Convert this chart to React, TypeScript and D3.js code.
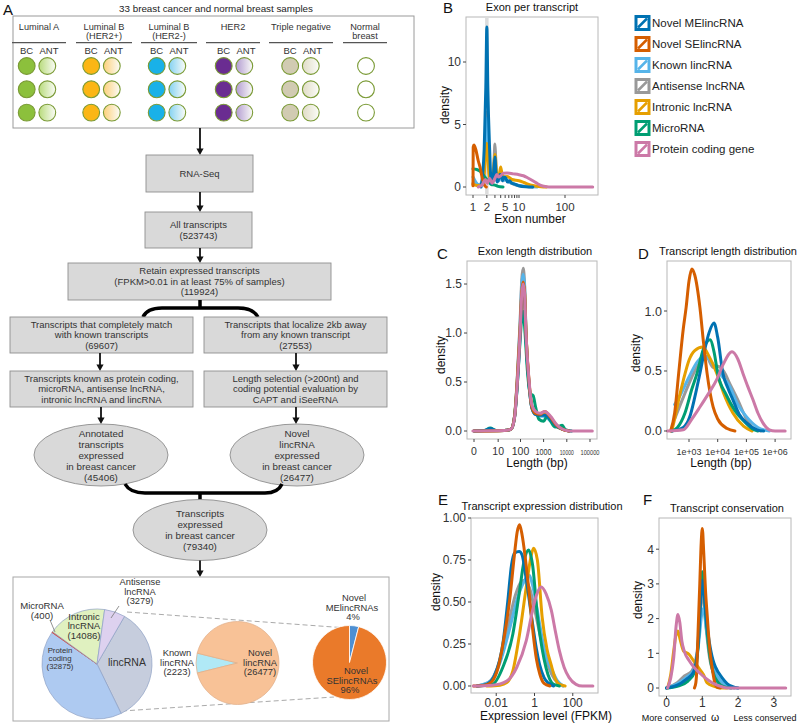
import React from "react";
import * as d3 from "d3";

type Pt = [number, number];
const FONT = "'Liberation Sans', Arial, Helvetica, sans-serif";

// ---------------- Panel A: samples ----------------
const sampleTitle = "33 breast cancer and normal breast samples";
const subtypeLabels: string[][] = [["Luminal A"], ["Luminal B", "(HER2+)"], ["Luminal B", "(HER2-)"], ["HER2"], ["Triple negative"], ["Normal", "breast"]];
const subtypePaired = [true, true, true, true, true, false];
const tumourColors = ["#8cc03c", "#fbb615", "#19b1e8", "#6a2c91", "#d1cbb2", "#ffffff"];
const adjacentColors = ["#b8db7c", "#fcd07a", "#84d2f2", "#b29bd1", "#e0dcc6", "#ffffff"];
const samplesPerGroup = 3;

// ---------------- Panel A: flowchart ----------------
const stepRnaSeq = ["RNA-Seq"];
const stepAll = ["All transcripts", "(523743)"];
const stepRetain = ["Retain expressed transcripts", "(FPKM>0.01 in at least 75% of samples)", "(119924)"];
const stepMatch = ["Transcripts that completely match", "with known transcripts", "(69607)"];
const stepAway = ["Transcripts that localize 2kb away", "from any known transcript", "(27553)"];
const stepKnown = ["Transcripts known as protein coding,", "microRNA, antisense lncRNA,", "intronic lncRNA and lincRNA"];
const stepLength = ["Length selection (>200nt) and", "coding potential evaluation by", "CAPT and iSeeRNA"];
const stepAnnotated = ["Annotated", "transcripts", "expressed", "in breast cancer", "(45406)"];
const stepNovel = ["Novel", "lincRNA", "expressed", "in breast cancer", "(26477)"];
const stepTotal = ["Transcripts", "expressed", "in breast cancer", "(79340)"];

// ---------------- Panel A: pies ----------------
const annotatedClasses = ["lincRNA", "Protein coding", "MicroRNA", "Intronic lncRNA", "Antisense lncRNA"];
const annotatedSliceDeg = [124, 151, 1, 62, 22];
const annotatedFills: [string, string][] = [["#eceff5", "#c6cddd"], ["#e4eefc", "#aecaf1"], ["#e0574c", "#e0574c"], ["#f7fbea", "#e0f1c0"], ["#f3eefa", "#ddd1ef"]];
const lincClasses = ["Known lincRNA", "Novel lincRNA"];
const lincSlicePct = [7.7, 92.3];
const lincFills: [string, string][] = [["#d2f4fb", "#b0e9f6"], ["#fde4cf", "#f8c297"]];
const novelClasses = ["Novel MElincRNAs", "Novel SElincRNAs"];
const novelSlicePct = [4, 96];
const novelFills = ["#4d8fd2", "#ea7a2a"];

// ---------------- Density panels ----------------
const seriesNames = ["Novel MElincRNA", "Novel SElincRNA", "Known lincRNA", "Antisense lncRNA", "Intronic lncRNA", "MicroRNA", "Protein coding gene"];
const seriesColors = ["#0072B2", "#D55E00", "#56B4E9", "#999999", "#E69F00", "#009E73", "#CC79A7"];
const seriesOrder = [3, 2, 4, 5, 0, 1, 6];

// B: exon number (x), density (y)
const exonPerTranscript: Pt[][] = [
  [[1.5, 0], [1.75, 3], [1.9, 8], [2, 12.8], [2.1, 8], [2.3, 3], [2.5, 0.3], [2.7, 0.4], [2.85, 1.5], [3, 2.4], [3.15, 1.2], [3.35, 0.4], [3.6, 0.6], [3.85, 1.0], [4.1, 1.0], [4.4, 0.5], [4.8, 0.8], [5.2, 0.7], [5.6, 0.4], [6.2, 0.5], [7, 0.3], [8.5, 0.2], [10, 0.1], [14, 0.02], [20, 0]],
  [[1, 0.1], [1.01, 3.2], [1.05, 3.36], [1.15, 3.0], [1.3, 2.1], [1.42, 1.6], [1.55, 0.9], [1.68, 0.4], [1.8, 0.1], [1.95, 0]],
  [[1, 0.8], [1.15, 0.4], [1.35, 0.15], [1.6, 0.5], [1.85, 3], [2, 5.5], [2.15, 3], [2.4, 0.4], [2.7, 0.6], [3, 1.8], [3.3, 0.6], [3.7, 0.5], [4, 0.9], [4.5, 0.5], [5, 0.6], [6, 0.4], [8, 0.25], [10, 0.12], [15, 0.04], [25, 0]],
  [[1, 0.3], [1.3, 0.2], [1.6, 0.3], [1.85, 3], [2, 6], [2.15, 3], [2.4, 0.3], [2.75, 0.5], [2.9, 2.5], [3, 3.45], [3.1, 2.5], [3.3, 0.5], [3.7, 0.6], [4, 1.0], [4.4, 0.5], [5, 0.6], [6, 0.4], [8, 0.2], [12, 0.05], [20, 0]],
  [[1, 0.2], [1.4, 0.1], [1.7, 0.6], [2, 3.5], [2.3, 0.6], [2.7, 0.8], [3, 2.6], [3.3, 1.0], [3.7, 1.0], [4, 1.6], [4.3, 1.0], [4.8, 0.8], [5.5, 0.85], [7, 0.6], [10, 0.5], [14, 0.3], [20, 0.12], [30, 0.02], [40, 0]],
  [[1, 1.45], [1.2, 1.4], [1.5, 1.2], [1.8, 0.8], [2.1, 0.5], [2.5, 0.2], [3, 0.15], [3.5, 0.05], [4.5, 0]],
  [[1.3, 0], [1.6, 0.2], [1.85, 0.6], [2.05, 0.3], [2.3, 0.7], [2.6, 0.3], [3, 0.7], [3.3, 1.0], [3.6, 0.8], [4, 0.9], [4.6, 1.1], [5.5, 1.12], [7.5, 1.05], [10, 0.98], [12.5, 0.9], [16, 0.7], [20, 0.5], [25, 0.28], [31, 0.1], [40, 0.02], [50, 0], [400, 0]],
];
const exonTicks = [1, 2, 3, 4, 5, 6, 7, 8, 9, 10, 100];
const exonTickLabels = ["1", "2", "", "", "5", "", "", "", "", "10", "100"];

// C: log10(exon length + 1) (x), density (y)
const exonLength: Pt[][] = [
  [[0, 0], [0.45, 0.005], [0.7, 0.025], [0.95, 0.005], [1.3, 0.005], [1.6, 0.02], [1.75, 0.14], [1.86, 0.45], [1.98, 0.95], [2.06, 1.35], [2.12, 1.45], [2.18, 1.35], [2.24, 0.95], [2.38, 0.45], [2.49, 0.24], [2.65, 0.17], [2.85, 0.16], [3.05, 0.16], [3.3, 0.12], [3.55, 0.05], [3.8, 0.02], [4.1, 0]],
  [[0, 0], [1.3, 0.005], [1.6, 0.02], [1.75, 0.15], [1.86, 0.5], [1.98, 1.0], [2.06, 1.42], [2.12, 1.52], [2.18, 1.42], [2.24, 1.0], [2.38, 0.48], [2.49, 0.25], [2.65, 0.18], [2.85, 0.17], [3.05, 0.2], [3.3, 0.14], [3.55, 0.06], [3.8, 0.02], [4.1, 0]],
  [[0, 0], [1.3, 0.005], [1.6, 0.02], [1.75, 0.15], [1.86, 0.5], [1.98, 1.05], [2.06, 1.5], [2.12, 1.6], [2.18, 1.48], [2.24, 1.02], [2.38, 0.46], [2.49, 0.24], [2.65, 0.17], [2.85, 0.15], [3.05, 0.15], [3.3, 0.1], [3.55, 0.05], [3.8, 0.02], [4.2, 0]],
  [[0, 0], [1.3, 0.005], [1.6, 0.02], [1.75, 0.16], [1.86, 0.52], [1.98, 1.08], [2.06, 1.55], [2.12, 1.66], [2.18, 1.5], [2.24, 1.02], [2.38, 0.46], [2.49, 0.24], [2.65, 0.17], [2.85, 0.16], [3.05, 0.17], [3.3, 0.11], [3.55, 0.05], [3.8, 0.02], [4.1, 0]],
  [[0, 0], [1.3, 0.005], [1.6, 0.02], [1.75, 0.15], [1.86, 0.48], [1.98, 0.98], [2.06, 1.4], [2.12, 1.5], [2.18, 1.4], [2.24, 1.0], [2.38, 0.48], [2.49, 0.25], [2.65, 0.19], [2.85, 0.17], [3.05, 0.18], [3.3, 0.13], [3.55, 0.05], [3.8, 0.02], [4.1, 0]],
  [[0, 0], [0.45, 0.005], [0.7, 0.03], [0.95, 0.005], [1.3, 0.005], [1.6, 0.02], [1.75, 0.15], [1.86, 0.45], [1.98, 0.9], [2.07, 1.18], [2.12, 1.22], [2.2, 1.0], [2.3, 0.62], [2.42, 0.38], [2.55, 0.36], [2.65, 0.25], [2.8, 0.12], [3.0, 0.1], [3.15, 0.15], [3.3, 0.1], [3.5, 0.04], [3.7, 0.05], [3.8, 0.06], [3.95, 0.01], [4.2, 0]],
  [[-0.05, 0], [1.3, 0.005], [1.6, 0.02], [1.75, 0.14], [1.86, 0.47], [1.98, 0.97], [2.06, 1.4], [2.12, 1.5], [2.18, 1.4], [2.24, 1.0], [2.38, 0.5], [2.49, 0.27], [2.65, 0.2], [2.85, 0.18], [3.05, 0.2], [3.3, 0.15], [3.55, 0.07], [3.8, 0.02], [4.1, 0], [5.1, 0]],
];
const exonLengthTicks = [0, 10, 100, 1000, 10000, 100000];
const exonLengthTickLabels = ["0", "10", "100", "1000", "10000", "100000"];

// D: log10(transcript length) (x), density (y)
const transcriptLength: Pt[][] = [
  [[2.4, 0], [2.8, 0.03], [3.03, 0.12], [3.2, 0.28], [3.38, 0.48], [3.55, 0.68], [3.7, 0.82], [3.87, 0.9], [4.0, 0.78], [4.18, 0.48], [4.35, 0.36], [4.53, 0.26], [4.75, 0.14], [5.0, 0.07], [5.37, 0.01], [5.6, 0]],
  [[2.36, 0], [2.5, 0.15], [2.64, 0.48], [2.8, 0.85], [2.9, 1.03], [3.0, 1.25], [3.1, 1.35], [3.2, 1.3], [3.38, 1.03], [3.5, 0.75], [3.63, 0.48], [3.84, 0.2], [4.0, 0.1], [4.33, 0.02], [4.6, 0]],
  [[2.5, 0.22], [2.7, 0.3], [3.0, 0.45], [3.3, 0.58], [3.55, 0.62], [3.7, 0.6], [3.84, 0.55], [4.1, 0.47], [4.4, 0.38], [4.7, 0.22], [5.0, 0.12], [5.4, 0.03], [5.8, 0]],
  [[2.5, 0.1], [2.8, 0.28], [3.1, 0.45], [3.4, 0.58], [3.6, 0.62], [3.84, 0.53], [4.0, 0.54], [4.2, 0.5], [4.45, 0.38], [4.7, 0.26], [5.0, 0.1], [5.25, 0.02], [5.5, 0]],
  [[2.4, 0], [2.5, 0.1], [2.64, 0.26], [2.8, 0.42], [3.0, 0.59], [3.2, 0.67], [3.48, 0.7], [3.7, 0.62], [3.97, 0.48], [4.2, 0.32], [4.53, 0.15], [4.9, 0.04], [5.2, 0]],
  [[2.4, 0], [2.6, 0.03], [2.86, 0.15], [3.1, 0.35], [3.28, 0.48], [3.5, 0.68], [3.73, 0.76], [3.88, 0.65], [4.0, 0.48], [4.3, 0.3], [4.6, 0.17], [4.88, 0.09], [5.2, 0.02], [5.4, 0]],
  [[2.25, 0], [2.8, 0.01], [3.1, 0.1], [3.38, 0.2], [3.7, 0.32], [3.97, 0.43], [4.2, 0.56], [4.5, 0.66], [4.7, 0.6], [4.88, 0.48], [5.05, 0.37], [5.23, 0.26], [5.4, 0.15], [5.57, 0.07], [5.8, 0.01], [6.0, 0], [6.35, 0]],
];
const transcriptLengthTicks = [3, 4, 5, 6];
const transcriptLengthTickLabels = ["1e+03", "1e+04", "1e+05", "1e+06"];

// E: log10(FPKM) (x), density (y)
const expression: Pt[][] = [
  [[-3.0, 0], [-2.5, 0.01], [-2.1, 0.06], [-1.63, 0.27], [-1.4, 0.5], [-1.2, 0.72], [-1.05, 0.79], [-0.8, 0.8], [-0.65, 0.78], [-0.45, 0.65], [-0.15, 0.41], [0.1, 0.22], [0.26, 0.13], [0.5, 0.05], [0.7, 0.02], [1.0, 0]],
  [[-3.2, 0], [-2.6, 0.005], [-2.24, 0.025], [-1.9, 0.11], [-1.56, 0.31], [-1.3, 0.51], [-1.05, 0.78], [-0.9, 0.92], [-0.78, 0.96], [-0.65, 0.9], [-0.5, 0.78], [-0.33, 0.61], [-0.07, 0.31], [0.1, 0.16], [0.28, 0.07], [0.5, 0.015], [0.8, 0]],
  [[-3.0, 0], [-2.3, 0.03], [-1.8, 0.14], [-1.3, 0.34], [-0.9, 0.52], [-0.55, 0.62], [-0.3, 0.66], [-0.1, 0.6], [0.1, 0.48], [0.36, 0.31], [0.6, 0.18], [0.93, 0.09], [1.2, 0.03], [1.5, 0]],
  [[-3.0, 0], [-2.4, 0.02], [-1.9, 0.12], [-1.4, 0.35], [-1.0, 0.54], [-0.7, 0.62], [-0.5, 0.63], [-0.25, 0.58], [0.0, 0.46], [0.3, 0.3], [0.6, 0.16], [0.9, 0.07], [1.2, 0.02], [1.5, 0]],
  [[-2.5, 0], [-1.8, 0.005], [-1.45, 0.02], [-1.13, 0.09], [-0.78, 0.31], [-0.43, 0.59], [-0.2, 0.76], [-0.05, 0.82], [0.15, 0.75], [0.4, 0.41], [0.65, 0.22], [0.86, 0.13], [1.1, 0.04], [1.3, 0.01], [1.6, 0]],
  [[-3.0, 0], [-2.2, 0.01], [-1.66, 0.11], [-1.13, 0.31], [-0.8, 0.55], [-0.55, 0.74], [-0.31, 0.81], [-0.1, 0.72], [0.16, 0.41], [0.4, 0.22], [0.6, 0.11], [0.8, 0.04], [1.0, 0.01], [1.3, 0]],
  [[-3.2, 0], [-2.2, 0.005], [-1.45, 0.03], [-0.93, 0.11], [-0.43, 0.27], [-0.1, 0.45], [0.1, 0.54], [0.36, 0.59], [0.6, 0.55], [0.88, 0.45], [1.1, 0.32], [1.3, 0.21], [1.55, 0.11], [1.81, 0.05], [2.17, 0.01], [2.5, 0], [3.05, 0]],
];
const expressionTicks = [-2, 0, 2];
const expressionTickLabels = ["0.01", "1", "100"];

// F: omega (x), density (y)
const conservation: Pt[][] = [
  [[0.0, 0], [0.3, 0.08], [0.55, 0.25], [0.75, 0.45], [0.88, 1.2], [0.96, 2.6], [1.0, 3.1], [1.05, 2.7], [1.12, 1.9], [1.2, 1.3], [1.3, 0.8], [1.37, 0.6], [1.55, 0.3], [1.7, 0.12], [1.85, 0.04], [2.0, 0]],
  [[0.78, 0], [0.82, 0.15], [0.85, 0.6], [0.88, 1.58], [0.93, 3.0], [0.97, 4.2], [1.0, 4.6], [1.04, 3.9], [1.09, 2.8], [1.14, 2.05], [1.2, 1.2], [1.28, 0.55], [1.35, 0.15], [1.42, 0.02], [1.5, 0]],
  [[0.0, 0], [0.3, 0.12], [0.55, 0.3], [0.75, 0.5], [0.9, 1.3], [0.98, 2.1], [1.04, 2.3], [1.1, 1.8], [1.2, 1.1], [1.3, 0.6], [1.45, 0.3], [1.6, 0.12], [1.8, 0.03], [2.0, 0]],
  [[0.0, 0], [0.3, 0.15], [0.5, 0.35], [0.7, 0.48], [0.85, 1.0], [0.95, 2.3], [1.0, 2.8], [1.05, 2.4], [1.12, 1.6], [1.2, 0.9], [1.35, 0.35], [1.5, 0.12], [1.7, 0.02], [1.9, 0]],
  [[0.03, 0], [0.12, 0.4], [0.2, 1.06], [0.26, 1.5], [0.32, 1.64], [0.38, 1.4], [0.48, 1.06], [0.62, 0.98], [0.76, 0.78], [0.9, 0.58], [0.99, 0.45], [1.05, 0.35], [1.13, 0.15], [1.33, 0.05], [1.5, 0.01], [1.7, 0]],
  [[0.0, 0], [0.3, 0.05], [0.6, 0.2], [0.8, 0.5], [0.9, 1.5], [0.96, 2.9], [1.0, 3.35], [1.05, 2.8], [1.12, 1.8], [1.2, 1.0], [1.3, 0.45], [1.45, 0.15], [1.6, 0.04], [1.8, 0]],
  [[0.03, 0], [0.12, 0.3], [0.2, 0.86], [0.27, 1.8], [0.32, 2.12], [0.37, 1.9], [0.43, 1.35], [0.5, 1.05], [0.64, 0.78], [0.78, 0.58], [0.92, 0.44], [1.05, 0.32], [1.2, 0.2], [1.35, 0.11], [1.48, 0.06], [1.65, 0.01], [1.8, 0], [3.33, 0]],
];
const conservationTicks = [0, 1, 2, 3];

// ---------------- helpers ----------------
const toRad = (d: number) => (d * Math.PI) / 180;

function Arrow({ x, y1, y2 }: { x: number; y1: number; y2: number }) {
  return (
    <g>
      <line x1={x} y1={y1} x2={x} y2={y2 - 5} stroke="#111" strokeWidth={1.8} />
      <path d={`M${x - 3.6},${y2 - 6.5}L${x + 3.6},${y2 - 6.5}L${x},${y2}Z`} fill="#111" />
    </g>
  );
}

function Box({ x, y, w, h, lines }: { x: number; y: number; w: number; h: number; lines: string[] }) {
  const lh = 10.5;
  const start = y + h / 2 - ((lines.length - 1) * lh) / 2;
  return (
    <g>
      <rect x={x} y={y} width={w} height={h} fill="#d9d9d9" stroke="#8f8f8f" strokeWidth={0.9} />
      {lines.map((l, i) => (
        <text key={i} x={x + w / 2} y={start + i * lh + 3.4} textAnchor="middle" fontSize={9.5} fill="#333">{l}</text>
      ))}
    </g>
  );
}

function Oval({ cx, cy, rx, ry, lines }: { cx: number; cy: number; rx: number; ry: number; lines: string[] }) {
  const lh = 11;
  const start = cy - ((lines.length - 1) * lh) / 2;
  return (
    <g>
      <ellipse cx={cx} cy={cy} rx={rx} ry={ry} fill="#d9d9d9" stroke="#8f8f8f" strokeWidth={0.9} />
      {lines.map((l, i) => (
        <text key={i} x={cx} y={start + i * lh + 3.5} textAnchor="middle" fontSize={9.8} fill="#333">{l}</text>
      ))}
    </g>
  );
}

function Label({ x, y, lines, size = 9.3, lh = 9.7, anchorX }: { x: number; y: number; lines: string[]; size?: number; lh?: number; anchorX?: number[] }) {
  return (
    <g>
      {lines.map((l, i) => (
        <text key={i} x={anchorX ? anchorX[i] : x} y={y + i * lh} textAnchor="middle" fontSize={size} fill="#333">{l}</text>
      ))}
    </g>
  );
}

type Tick = { v: number; label: string; w?: number; fs?: number };

function DensityPanel(p: {
  letter: string; letterPos: [number, number];
  title: string; titlePos: [number, number];
  box: [number, number, number, number];
  xs: (v: number) => number; ys: (v: number) => number;
  xTicks: Tick[]; yTicks: Tick[];
  xTickBase: number; xTickSize: number; yTickSize: number;
  xTitle?: string; xTitlePos?: [number, number];
  yTitlePos: [number, number];
  data: Pt[][];
  under?: React.ReactNode;
}) {
  const [x0, y0, x1, y1] = p.box;
  const line = d3.line<Pt>().x((d) => p.xs(d[0])).y((d) => p.ys(d[1])).curve(d3.curveMonotoneX);
  return (
    <g>
      <text x={p.letterPos[0]} y={p.letterPos[1]} fontSize={15} fill="#111">{p.letter}</text>
      <text x={p.titlePos[0]} y={p.titlePos[1]} fontSize={11} textAnchor="middle" fill="#111">{p.title}</text>
      <rect x={x0} y={y0} width={x1 - x0} height={y1 - y0} fill="#fff" stroke="#b8b8b8" strokeWidth={1} />
      {p.under}
      {seriesOrder.map((i) => (
        <path key={i} d={line(p.data[i]) || ""} fill="none" stroke={seriesColors[i]} strokeWidth={3} strokeLinejoin="round" strokeLinecap="round" />
      ))}
      {p.yTicks.map((t) => (
        <g key={"y" + t.label}>
          <line x1={x0 - 3} x2={x0} y1={p.ys(t.v)} y2={p.ys(t.v)} stroke="#444" strokeWidth={1} />
          <text x={x0 - 5} y={p.ys(t.v) + p.yTickSize * 0.36} textAnchor="end" fontSize={p.yTickSize} fill="#333">{t.label}</text>
        </g>
      ))}
      {p.xTicks.map((t, i) => (
        <g key={"x" + i}>
          <line x1={p.xs(t.v)} x2={p.xs(t.v)} y1={y1} y2={y1 + 3} stroke="#444" strokeWidth={1} />
          {t.label !== "" && (
            t.w ? (
              <text x={p.xs(t.v)} y={p.xTickBase} textAnchor="middle" fontSize={t.fs || p.xTickSize} fill="#333" textLength={t.w} lengthAdjust="spacingAndGlyphs">{t.label}</text>
            ) : (
              <text x={p.xs(t.v)} y={p.xTickBase} textAnchor="middle" fontSize={t.fs || p.xTickSize} fill="#333">{t.label}</text>
            )
          )}
        </g>
      ))}
      {p.xTitle && p.xTitlePos && (
        <text x={p.xTitlePos[0]} y={p.xTitlePos[1]} textAnchor="middle" fontSize={12} fill="#111">{p.xTitle}</text>
      )}
      <text transform={`translate(${p.yTitlePos[0] + 4},${p.yTitlePos[1]}) rotate(-90)`} textAnchor="middle" fontSize={12} fill="#111">density</text>
    </g>
  );
}

export default function App() {
  // ---- sample circles layout ----
  const circleCenters = [37, 101.5, 167, 234, 300.5, 366];
  const headerCenters = [39, 104, 169, 233, 301, 365];
  const underlineHalf = [27, 28, 28, 27, 32, 22];
  const rowY = (r: number) => 66 + r * 23.3;

  // ---- pies ----
  const arcGen = (r: number) => d3.arc<d3.PieArcDatum<number>>().innerRadius(0).outerRadius(r);
  const annotatedArcs = d3.pie<number>().sort(null).startAngle(toRad(30)).endAngle(toRad(390))(annotatedSliceDeg);
  const lincArcs = d3.pie<number>().sort(null).startAngle(toRad(256)).endAngle(toRad(616))(lincSlicePct);
  const novelArcs = d3.pie<number>().sort(null).startAngle(toRad(0)).endAngle(toRad(360))(novelSlicePct);
  const pA = { cx: 97, cy: 664, r: 55 };
  const pB = { cx: 237.5, cy: 663, r: 41.5 };
  const pC = { cx: 349.5, cy: 662.5, r: 37 };

  // ---- scales ----
  const xsB = d3.scaleLog().domain([Math.pow(10, -7 / 46), Math.pow(10, 125 / 46)]).range([466, 598]);
  const ysB = d3.scaleLinear().domain([-0.64, 13.6]).range([195, 17]);
  const xsC = d3.scaleLinear().domain([-0.302, 5.302]).range([467, 597]);
  const ysC = d3.scaleLinear().domain([-0.0816, 1.735]).range([439, 261]);
  const xsD = d3.scaleLinear().domain([2.2334, 6.554]).range([667, 791]);
  const ysD = d3.scaleLinear().domain([-0.0667, 1.4167]).range([439, 261]);
  const xsE = d3.scaleLinear().domain([-3.318, 3.318]).range([471, 598]);
  const ysE = d3.scaleLinear().domain([-0.0417, 1.0]).range([693, 518]);
  const xsF = d3.scaleLinear().domain([-0.2095, 3.4777]).range([659, 791]);
  const ysF = d3.scaleLinear().domain([-0.2305, 4.899]).range([696, 518]);

  const exonLenWidths = [0, 0, 0, 16, 14, 19];
  const exonLenSizes = [10.5, 10.5, 10.5, 9, 7.5, 7.5];

  return (
    <svg width={799} height={725} style={{ position: "absolute", left: 0, top: 0, display: "block" }} fontFamily={FONT}>
      <defs>
        {adjacentColors.map((c, i) => (
          <linearGradient key={i} id={`ant${i}`} x1="0" x2="1" y1="0" y2="0">
            <stop offset="0" stopColor={c} />
            <stop offset="1" stopColor="#fbfcf8" />
          </linearGradient>
        ))}
        {annotatedFills.map((f, i) => (
          <radialGradient key={i} id={`pa${i}`} cx={pA.cx - 10} cy={pA.cy - 25} r={pA.r * 1.5} gradientUnits="userSpaceOnUse">
            <stop offset="0" stopColor={f[0]} />
            <stop offset="1" stopColor={f[1]} />
          </radialGradient>
        ))}
        {lincFills.map((f, i) => (
          <radialGradient key={i} id={`pb${i}`} cx={pB.cx - 8} cy={pB.cy - 18} r={pB.r * 1.5} gradientUnits="userSpaceOnUse">
            <stop offset="0" stopColor={f[0]} />
            <stop offset="1" stopColor={f[1]} />
          </radialGradient>
        ))}
      </defs>
      <rect x={0} y={0} width={799} height={725} fill="#fff" />

      {/* ================= Panel A ================= */}
      <text x={3} y={15} fontSize={15} fill="#111">A</text>
      <text x={216} y={11.5} fontSize={9.8} textAnchor="middle" fill="#222">{sampleTitle}</text>
      <rect x={13} y={16} width={401} height={112} fill="#fff" stroke="#9a9a9a" strokeWidth={1} />
      {subtypeLabels.map((lines, g) => (
        <g key={g}>
          {lines.map((l, i) => (
            <text key={i} x={headerCenters[g]} y={29.5 + i * 9.2} textAnchor="middle" fontSize={9.2} fill="#333">{l}</text>
          ))}
          <line x1={headerCenters[g] - underlineHalf[g]} x2={headerCenters[g] + underlineHalf[g]} y1={42.7} y2={42.7} stroke="#555" strokeWidth={1.3} />
          {subtypePaired[g] && (
            <g>
              <text x={circleCenters[g] - 10.5} y={54} textAnchor="middle" fontSize={9.5} fill="#333">BC</text>
              <text x={circleCenters[g] + 12} y={54} textAnchor="middle" fontSize={9.5} fill="#333">ANT</text>
            </g>
          )}
          {d3.range(samplesPerGroup).map((r) =>
            subtypePaired[g] ? (
              <g key={r}>
                <circle cx={circleCenters[g] - 10.3} cy={rowY(r)} r={8.4} fill={tumourColors[g]} stroke="#7a9a35" strokeWidth={1.1} />
                <circle cx={circleCenters[g] + 10.3} cy={rowY(r)} r={8.4} fill={`url(#ant${g})`} stroke="#7a9a35" strokeWidth={1.1} />
              </g>
            ) : (
              <circle key={r} cx={circleCenters[g]} cy={rowY(r)} r={8.4} fill="#fff" stroke="#7a9a35" strokeWidth={1.1} />
            )
          )}
        </g>
      ))}

      {/* flowchart */}
      <Arrow x={200} y1={128} y2={155} />
      <Box x={146} y={155} w={107} h={37} lines={stepRnaSeq} />
      <Arrow x={200} y1={192} y2={212} />
      <Box x={145} y={212} w={107} h={36} lines={stepAll} />
      <Arrow x={200} y1={248} y2={263} />
      <Box x={68} y={263} w={263} h={37} lines={stepRetain} />
      <path d="M200,300 L200,308 M143,317 Q147,308 162,308 L238,308 Q253,308 258,317" fill="none" stroke="#000" strokeWidth={3.5} />
      <Box x={10} y={317} w={183} h={36} lines={stepMatch} />
      <Box x={204} y={317} w={183} h={36} lines={stepAway} />
      <Arrow x={100} y1={353} y2={371} />
      <Arrow x={296} y1={353} y2={371} />
      <Box x={10} y={371} w={183} h={36} lines={stepKnown} />
      <Box x={204} y={371} w={183} h={36} lines={stepLength} />
      <Arrow x={101} y1={407} y2={424} />
      <Arrow x={296} y1={407} y2={424} />
      <Oval cx={101} cy={455} rx={67} ry={31} lines={stepAnnotated} />
      <Oval cx={297} cy={455} rx={67} ry={31} lines={stepNovel} />
      <path d="M125,484 Q130,493 145,493 L265,493 Q278,493 282,484 M200,493 L200,500" fill="none" stroke="#000" strokeWidth={3.5} />
      <Oval cx={200} cy={530} rx={67} ry={30.5} lines={stepTotal} />
      <Arrow x={200} y1={560.5} y2={577} />

      {/* pie box */}
      <rect x={13} y={577} width={376} height={144} fill="#fff" stroke="#a8a8a8" strokeWidth={1} />
      <line x1={127} y1={612} x2={347} y2={628} stroke="#aaa" strokeWidth={1} strokeDasharray="5,3" />
      <line x1={122} y1={711} x2={334} y2={697} stroke="#aaa" strokeWidth={1} strokeDasharray="5,3" />
      <g transform={`translate(${pA.cx},${pA.cy})`}>
        {annotatedArcs.map((a, i) => (
          <path key={i} d={arcGen(pA.r)(a) || ""} fill={`url(#pa${i})`}
            stroke={i === 2 ? "#d04a40" : "#8ea0c4"} strokeWidth={i === 2 ? 0.8 : 0.7} />
        ))}
      </g>
      <g transform={`translate(${pB.cx},${pB.cy})`}>
        {lincArcs.map((a, i) => (
          <path key={i} d={arcGen(pB.r)(a) || ""} fill={`url(#pb${i})`} stroke="#dfae88" strokeWidth={0.7} />
        ))}
      </g>
      <g transform={`translate(${pC.cx},${pC.cy})`}>
        {novelArcs.map((a, i) => (
          <path key={i} d={arcGen(pC.r)(a) || ""} fill={novelFills[i]} stroke="#ffffff" strokeWidth={0.8} />
        ))}
      </g>
      {/* pie labels */}
      <line x1={50} y1={620} x2={55} y2={632} stroke="#777" strokeWidth={0.8} />
      <line x1={119} y1={606} x2={111} y2={618} stroke="#777" strokeWidth={0.8} />
      <Label x={42} y={609} lines={["MicroRNA", "(400)"]} size={9.6} lh={10} />
      <Label x={140} y={585} lines={["Antisense", "lncRNA", "(3279)"]} size={9.3} lh={9.6} />
      <Label x={84} y={619.5} lines={["Intronic", "lncRNA", "(14086)"]} size={9.6} lh={9.8} />
      <Label x={60} y={653} lines={["Protein", "coding", "(32875)"]} size={7.8} lh={8} />
      <text x={127} y={666} textAnchor="middle" fontSize={10.5} fill="#333">lincRNA</text>
      <Label x={177} y={656} lines={["Known", "lincRNA", "(2223)"]} size={9.4} lh={9.7} />
      <Label x={260} y={656} lines={["Novel", "lincRNA", "(26477)"]} size={9.4} lh={9.7} />
      <Label x={353} y={601} lines={["Novel", "MElincRNAs", "4%"]} size={9.4} lh={9.5} anchorX={[354, 352, 353]} />
      <Label x={352} y={674} lines={["Novel", "SElincRNAs", "96%"]} size={9.4} lh={9.5} anchorX={[356, 352, 350]} />

      {/* ================= Panel B ================= */}
      <DensityPanel
        letter="B" letterPos={[443, 13]}
        title="Exon per transcript" titlePos={[532, 11]}
        box={[466, 17, 598, 195]} xs={xsB} ys={ysB}
        xTicks={exonTicks.map((v, i) => ({ v, label: exonTickLabels[i] }))}
        yTicks={[0, 5, 10].map((v) => ({ v, label: String(v) }))}
        xTickBase={211} xTickSize={11.5} yTickSize={12}
        xTitle="Exon number" xTitlePos={[530, 222.5]}
        yTitlePos={[445, 105]}
        data={exonPerTranscript}
        under={<line x1={xsB(2)} x2={xsB(2)} y1={17.5} y2={194.5} stroke="#dcdcdc" strokeWidth={3.5} />}
      />
      {seriesNames.map((n, i) => (
        <g key={n}>
          <rect x={636} y={16.5 + i * 21} width={13} height={13} fill="#fff" stroke={seriesColors[i]} strokeWidth={3} />
          <line x1={638} y1={27.5 + i * 21} x2={647} y2={18.5 + i * 21} stroke={seriesColors[i]} strokeWidth={2.5} />
          <text x={652} y={27 + i * 21} fontSize={11.5} fill="#222">{n}</text>
        </g>
      ))}

      {/* ================= Panel C ================= */}
      <DensityPanel
        letter="C" letterPos={[437, 259]}
        title="Exon length distribution" titlePos={[535, 255]}
        box={[467, 261, 597, 439]} xs={xsC} ys={ysC}
        xTicks={exonLengthTicks.map((t, i) => ({ v: Math.log10(t + 1), label: exonLengthTickLabels[i], w: exonLenWidths[i] || undefined, fs: exonLenSizes[i] }))}
        yTicks={[0, 0.5, 1, 1.5].map((v) => ({ v, label: v.toFixed(1) }))}
        xTickBase={455} xTickSize={10.5} yTickSize={12}
        xTitle="Length (bp)" xTitlePos={[537, 467]}
        yTitlePos={[441, 355]}
        data={exonLength}
      />

      {/* ================= Panel D ================= */}
      <DensityPanel
        letter="D" letterPos={[638, 259]}
        title="Transcript length distribution" titlePos={[728, 255]}
        box={[667, 261, 791, 439]} xs={xsD} ys={ysD}
        xTicks={transcriptLengthTicks.map((v, i) => ({ v, label: transcriptLengthTickLabels[i], w: 25, fs: 9 }))}
        yTicks={[0, 0.5, 1].map((v) => ({ v, label: v.toFixed(1) }))}
        xTickBase={455} xTickSize={10.5} yTickSize={12.5}
        xTitle="Length (bp)" xTitlePos={[721, 467]}
        yTitlePos={[636, 353]}
        data={transcriptLength}
      />

      {/* ================= Panel E ================= */}
      <DensityPanel
        letter="E" letterPos={[438, 505]}
        title="Transcript expression distribution" titlePos={[542, 510]}
        box={[471, 518, 598, 693]} xs={xsE} ys={ysE}
        xTicks={expressionTicks.map((v, i) => ({ v, label: expressionTickLabels[i] }))}
        yTicks={[0, 0.25, 0.5, 0.75, 1].map((v) => ({ v, label: v.toFixed(2) }))}
        xTickBase={707} xTickSize={12} yTickSize={12}
        xTitle="Expression level (FPKM)" xTitlePos={[546, 720]}
        yTitlePos={[436, 592]}
        data={expression}
      />

      {/* ================= Panel F ================= */}
      <DensityPanel
        letter="F" letterPos={[643, 505]}
        title="Transcript conservation" titlePos={[727, 512]}
        box={[659, 518, 791, 696]} xs={xsF} ys={ysF}
        xTicks={conservationTicks.map((v) => ({ v, label: String(v) }))}
        yTicks={[0, 1, 2, 3, 4].map((v) => ({ v, label: String(v) }))}
        xTickBase={707} xTickSize={12} yTickSize={12}
        yTitlePos={[638, 600]}
        data={conservation}
      />
      <text x={674} y={721} textAnchor="middle" fontSize={9} fill="#111">More conserved</text>
      <text x={715} y={721} textAnchor="middle" fontSize={10.5} fill="#111">ω</text>
      <text x={765} y={721} textAnchor="middle" fontSize={9} fill="#111">Less conserved</text>
    </svg>
  );
}
